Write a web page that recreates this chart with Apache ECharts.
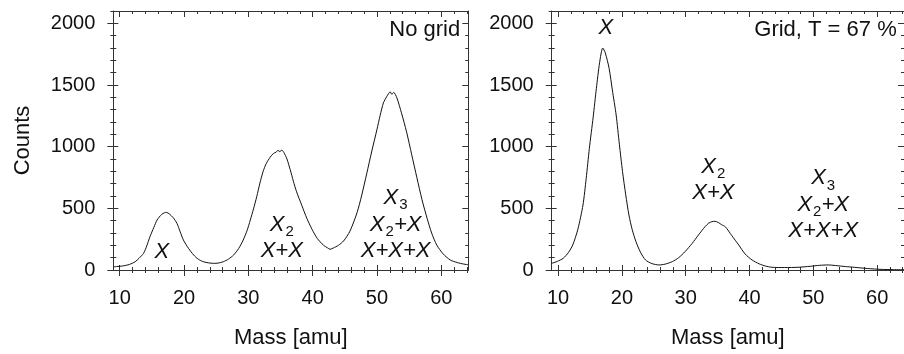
<!DOCTYPE html>
<html><head><meta charset="utf-8">
<script src="https://cdn.jsdelivr.net/npm/echarts@6/dist/echarts.min.js"></script>
<style>html,body{margin:0;padding:0;background:#fff}#c{width:904px;height:354px}</style>
</head><body><div id="c"></div><script>
// ---- data ----
const massLeft = [9.0, 9.5, 10.5, 11.5, 12.4, 13.0, 13.7, 14.2, 14.7, 15.3, 15.8, 16.5, 17.0, 17.3, 17.7, 18.3, 18.9, 19.4, 19.9, 20.7, 21.5, 22.2, 23.0, 23.8, 24.6, 25.3, 26.1, 26.9, 27.7, 28.5, 29.2, 29.8, 30.3, 30.8, 31.3, 31.8, 32.3, 32.8, 33.4, 33.9, 34.3, 34.6, 34.9, 35.2, 35.5, 36.0, 36.5, 37.0, 37.5, 38.3, 39.1, 39.9, 40.7, 41.7, 42.3, 42.7, 43.2, 44.0, 44.8, 45.8, 46.9, 47.6, 48.4, 49.2, 50.0, 50.5, 51.0, 51.5, 51.8, 52.05, 52.3, 52.6, 53.1, 53.8, 54.6, 55.4, 56.2, 57.0, 57.8, 58.5, 59.3, 60.3, 61.4, 62.5, 63.5, 64.2];
const countsLeft = [25, 28, 33, 45, 67, 95, 135, 195, 270, 345, 405, 450, 465, 467, 455, 425, 378, 310, 243, 175, 121, 88, 67, 58, 54, 56, 67, 88, 121, 175, 243, 320, 405, 495, 594, 705, 800, 865, 915, 945, 955, 970, 960, 972, 955, 900, 815, 720, 634, 525, 418, 330, 257, 200, 180, 168, 178, 200, 235, 315, 465, 600, 780, 965, 1140, 1255, 1355, 1405, 1430, 1445, 1425, 1440, 1395, 1275, 1120, 935, 750, 570, 418, 300, 202, 130, 81, 60, 48, 42];
const massRight = [9.0, 9.9, 10.8, 11.6, 12.3, 13.1, 13.9, 14.4, 14.9, 15.5, 16.0, 16.5, 17.0, 17.4, 18.0, 18.5, 19.1, 19.6, 20.1, 20.6, 21.1, 21.6, 22.2, 22.9, 23.7, 24.7, 25.8, 26.8, 27.9, 28.9, 29.9, 31.0, 32.0, 33.0, 33.6, 34.1, 34.6, 35.1, 35.6, 36.2, 37.2, 38.3, 39.3, 40.4, 41.5, 42.5, 43.5, 45.5, 47.6, 49.5, 51.0, 52.3, 53.5, 55.0, 56.4, 58.5, 60.6, 62.5, 64.5];
const countsRight = [54, 70, 95, 140, 203, 330, 527, 740, 986, 1240, 1473, 1680, 1800, 1760, 1634, 1460, 1256, 1020, 797, 610, 446, 330, 230, 145, 81, 52, 41, 48, 68, 100, 149, 215, 284, 350, 380, 392, 395, 385, 368, 351, 280, 203, 130, 81, 50, 32, 22, 20, 22, 30, 38, 41, 36, 28, 22, 12, 5, 3, 2];

const xMajorTicks = [10, 20, 30, 40, 50, 60];
const xMinorTicks = [10, 12, 14, 16, 18, 20, 22, 24, 26, 28, 30, 32, 34, 36, 38, 40, 42, 44, 46, 48, 50, 52, 54, 56, 58, 60, 62, 64];
const yMajorTicks = [0, 500, 1000, 1500, 2000];
const yMinorTicks = [0, 100, 200, 300, 400, 500, 600, 700, 800, 900, 1000, 1100, 1200, 1300, 1400, 1500, 1600, 1700, 1800, 1900, 2000, 2100];

const xTitle = 'Mass [amu]';
const yTitle = 'Counts';
const panelTitles = ['No grid', 'Grid, T = 67 %'];
const panelTitleX = [62.94, 63.06];
const panelTitleY = [1943, 1943];

// annotations (text in rich markup, anchored in data coordinates)
const annLeftText = ['{i|X}', '{i|X}{s|2}', '{i|X+X}', '{i|X}{s|3}', '{i|X}{s|2}{i|+X}', '{i|X+X+X}'];
const annLeftX = [16.55, 35.2, 35.2, 52.9, 52.9, 52.9];
const annLeftY = [148, 364, 154, 581, 364, 154];
const annRightText = ['{i|X}', '{i|X}{s|2}', '{i|X+X}', '{i|X}{s|3}', '{i|X}{s|2}{i|+X}', '{i|X+X+X}'];
const annRightX = [17.5, 34.33, 34.33, 51.54, 51.54, 51.54];
const annRightY = [1967, 836, 622, 743, 527, 316];

// ---- chart ----
const FONT = '"Liberation Sans", Arial, Helvetica, sans-serif';
const AX = '#333';
const TXT = '#111';
const XMIN = 9, XMAX = 64.2, YMIN = 0, YMAX = 2100;

function tickAxis(kind, grid, position, opts) {
  const base = {
    type: 'value', gridIndex: grid, position: position,
    min: kind === 'x' ? XMIN : YMIN, max: kind === 'x' ? XMAX : YMAX,
    splitLine: { show: false },
    axisLine: { show: false, onZero: false },
    axisLabel: { show: false },
    axisTick: { show: false },
    minorTick: { show: false }
  };
  if (opts.line) base.axisLine = { show: true, onZero: false, lineStyle: { color: AX, width: 1 } };
  if (opts.ticks) base.axisTick = { show: true, inside: opts.inside, length: opts.len, customValues: opts.ticks, lineStyle: { color: AX, width: 1 } };
  if (opts.labels) base.axisLabel = { show: true, customValues: opts.labels, margin: 18, fontSize: 20, color: TXT, fontFamily: FONT, formatter: v => String(v) };
  if (opts.name) {
    base.name = opts.name; base.nameLocation = 'middle'; base.nameGap = opts.nameGap;
    base.nameTextStyle = { fontSize: 22, color: TXT, fontFamily: FONT };
    if (kind === 'y') base.nameRotate = 90;
  }
  return base;
}

const xAxis = [], yAxis = [];
[0, 1].forEach(g => {
  xAxis.push(tickAxis('x', g, 'bottom', { line: true, ticks: xMajorTicks, inside: false, len: 6, labels: xMajorTicks, name: xTitle, nameGap: 57 }));
  xAxis.push(tickAxis('x', g, 'bottom', { ticks: xMajorTicks, inside: true, len: 5 }));
  xAxis.push(tickAxis('x', g, 'bottom', { ticks: xMinorTicks, inside: false, len: 3 }));
  xAxis.push(tickAxis('x', g, 'bottom', { ticks: xMinorTicks, inside: true, len: 3 }));
  xAxis.push(tickAxis('x', g, 'top', { line: true, ticks: xMajorTicks, inside: true, len: 6 }));
  xAxis.push(tickAxis('x', g, 'top', { ticks: xMinorTicks, inside: true, len: 3 }));

  yAxis.push(tickAxis('y', g, 'left', { line: true, ticks: yMajorTicks, inside: false, len: 6, labels: yMajorTicks, name: g === 0 ? yTitle : null, nameGap: 79 }));
  yAxis.push(tickAxis('y', g, 'left', { ticks: yMajorTicks, inside: true, len: 5 }));
  yAxis.push(tickAxis('y', g, 'left', { ticks: yMinorTicks, inside: false, len: 3 }));
  yAxis.push(tickAxis('y', g, 'left', { ticks: yMinorTicks, inside: true, len: 3 }));
  yAxis.push(tickAxis('y', g, 'right', { line: true, ticks: yMajorTicks, inside: true, len: 6 }));
  yAxis.push(tickAxis('y', g, 'right', { ticks: yMinorTicks, inside: true, len: 3 }));
});

const rich = {
  i: { fontSize: 22, fontStyle: 'italic', fontFamily: FONT, color: TXT, lineHeight: 24, textBorderWidth: 0 },
  s: { fontSize: 15, fontFamily: FONT, color: TXT, lineHeight: 15, padding: [14, 0, 0, 1], textBorderWidth: 0 }
};

function annSeries(g, xs, ys, texts) {
  return {
    type: 'scatter', xAxisIndex: g * 6, yAxisIndex: g * 6, symbolSize: 0, silent: true, z: 5,
    itemStyle: { opacity: 1 },
    data: xs.map((x, k) => ({ value: [x, ys[k]], txt: texts[k] })),
    label: { show: true, position: 'inside', align: 'center', verticalAlign: 'middle', opacity: 1,
      color: TXT, textBorderWidth: 0, textBorderColor: 'transparent',
      formatter: p => p.data.txt, rich: rich }
  };
}
function titleSeries(g) {
  return {
    type: 'scatter', xAxisIndex: g * 6, yAxisIndex: g * 6, symbolSize: 0, silent: true, z: 5,
    itemStyle: { opacity: 1 },
    data: [{ value: [panelTitleX[g], panelTitleY[g]], txt: panelTitles[g] }],
    label: { show: true, position: 'inside', align: 'right', verticalAlign: 'middle', opacity: 1,
      textBorderWidth: 0, textBorderColor: 'transparent',
      formatter: p => p.data.txt, fontSize: 22, color: TXT, fontFamily: FONT }
  };
}
function curve(g, xs, ys) {
  return {
    type: 'line', xAxisIndex: g * 6, yAxisIndex: g * 6, showSymbol: false, smooth: 0.25,
    lineStyle: { color: '#111', width: 1 }, silent: true,
    data: xs.map((x, k) => [x, ys[k]])
  };
}

const chart = echarts.init(document.getElementById('c'), null, { renderer: 'canvas' });
chart.setOption({
  animation: false,
  backgroundColor: '#fff',
  grid: [
    { left: 113.3, top: 11, width: 355, height: 259 },
    { left: 551.7, top: 11, width: 355, height: 259 }
  ],
  xAxis: xAxis,
  yAxis: yAxis,
  series: [
    curve(0, massLeft, countsLeft),
    curve(1, massRight, countsRight),
    annSeries(0, annLeftX, annLeftY, annLeftText),
    annSeries(1, annRightX, annRightY, annRightText),
    titleSeries(0),
    titleSeries(1)
  ]
});
</script></body></html>
